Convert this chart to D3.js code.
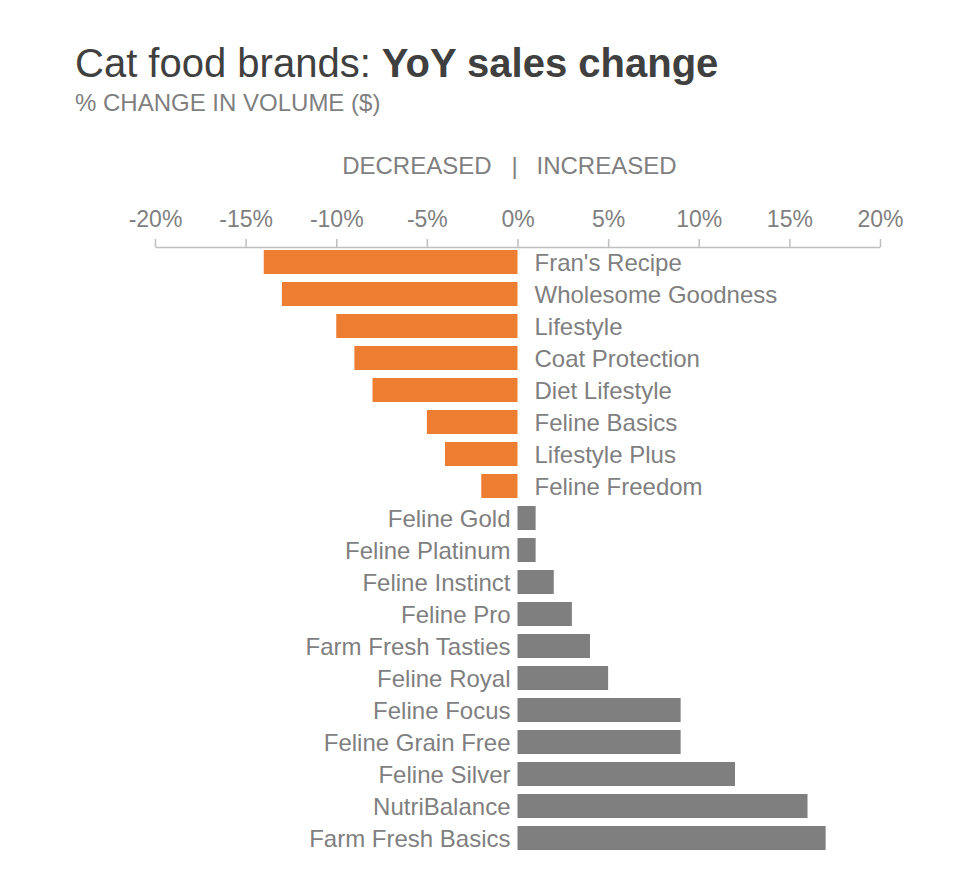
<!DOCTYPE html>
<html>
<head>
<meta charset="utf-8">
<script src="https://cdn.jsdelivr.net/npm/d3@7"></script>
<style>
  body { margin: 0; background: #fff; }
  svg { display: block; font-family: "Liberation Sans", Arial, sans-serif; }
</style>
</head>
<body>
<div id="chart"></div>
<script>
const brands = [
  "Fran's Recipe", "Wholesome Goodness", "Lifestyle", "Coat Protection",
  "Diet Lifestyle", "Feline Basics", "Lifestyle Plus", "Feline Freedom",
  "Feline Gold", "Feline Platinum", "Feline Instinct", "Feline Pro",
  "Farm Fresh Tasties", "Feline Royal", "Feline Focus", "Feline Grain Free",
  "Feline Silver", "NutriBalance", "Farm Fresh Basics"
];
const changes = [-14, -13, -10, -9, -8, -5, -4, -2, 1, 1, 2, 3, 4, 5, 9, 9, 12, 16, 17];
const tickValues = [-20, -15, -10, -5, 0, 5, 10, 15, 20];

const width = 958, height = 888;
const svg = d3.select("#chart").append("svg")
  .attr("width", width)
  .attr("height", height);

// title
const title = svg.append("text")
  .attr("x", 75).attr("y", 77)
  .attr("font-size", 40).attr("fill", "#404040");
title.append("tspan").text("Cat food brands: ");
title.append("tspan").attr("font-weight", "bold").text("YoY sales change");

svg.append("text")
  .attr("x", 75).attr("y", 111)
  .attr("font-size", 24).attr("fill", "#7f7f7f")
  .text("% CHANGE IN VOLUME ($)");

const x = d3.scaleLinear().domain([-20, 20]).range([155, 880]);
const y = d3.scaleBand()
  .domain(brands)
  .range([246, 246 + brands.length * 32])
  .paddingInner(0.25)
  .paddingOuter(0.125);

// decreased | increased header
const head = svg.append("g").attr("font-size", 24).attr("fill", "#7f7f7f");
head.append("text").attr("x", x(0) - 26).attr("y", 174)
  .attr("text-anchor", "end").text("DECREASED");
head.append("text").attr("x", x(0) - 3).attr("y", 174)
  .attr("text-anchor", "middle").text("|");
head.append("text").attr("x", x(0) + 19).attr("y", 174)
  .attr("text-anchor", "start").text("INCREASED");

const axis = svg.append("g")
  .attr("transform", `translate(0,247)`)
  .call(d3.axisTop(x).tickValues(tickValues).tickSize(8).tickSizeOuter(0).tickPadding(12)
    .tickFormat(d => d + "%"));
axis.select(".domain").attr("stroke", "#bfbfbf").attr("stroke-width", 1.5);
axis.selectAll(".tick line").attr("stroke", "#bfbfbf").attr("stroke-width", 1.5);
axis.selectAll(".tick text")
  .attr("font-size", 23).attr("fill", "#7f7f7f")
  .attr("font-family", "Liberation Sans, Arial, sans-serif");

const data = brands.map((b, i) => ({ brand: b, value: changes[i] }));

svg.append("g").selectAll("rect")
  .data(data)
  .join("rect")
  .attr("x", d => x(Math.min(0, d.value)))
  .attr("width", d => Math.abs(x(d.value) - x(0)))
  .attr("y", d => y(d.brand))
  .attr("height", y.bandwidth())
  .attr("fill", d => d.value < 0 ? "#ed7d31" : "#7f7f7f");

svg.append("g").selectAll("text")
  .data(data)
  .join("text")
  .attr("x", d => d.value < 0 ? x(0) + 17 : x(0) - 7)
  .attr("y", d => y(d.brand) + y.bandwidth() / 2)
  .attr("dy", "0.36em")
  .attr("text-anchor", d => d.value < 0 ? "start" : "end")
  .attr("font-size", 24)
  .attr("fill", "#7f7f7f")
  .text(d => d.brand);
</script>
</body>
</html>
